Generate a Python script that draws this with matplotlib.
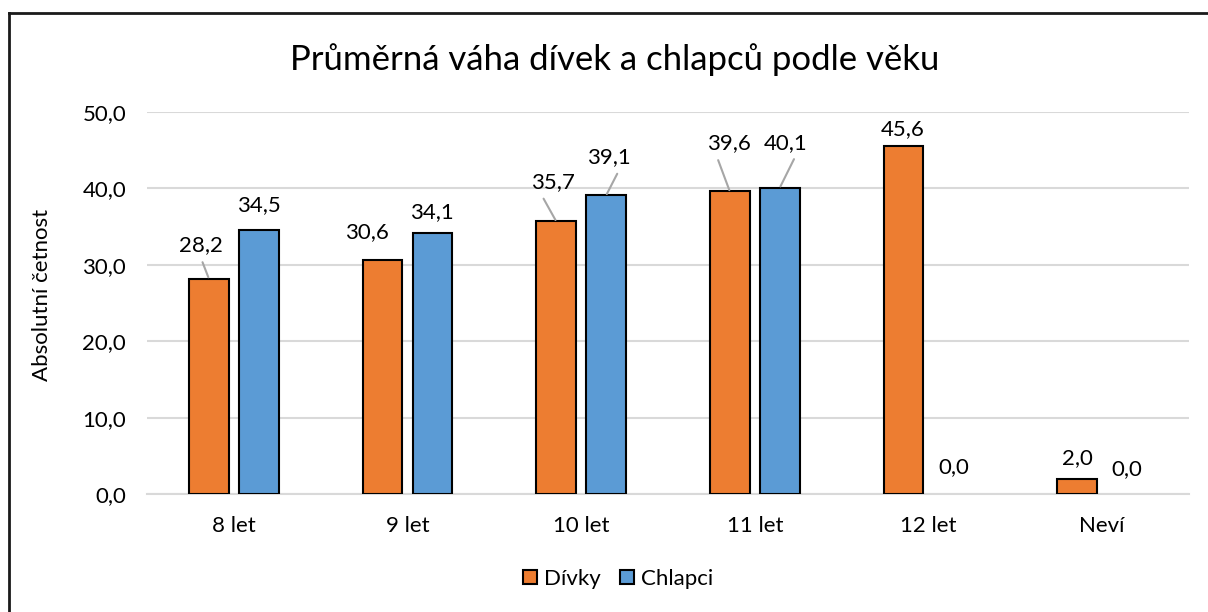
import matplotlib
matplotlib.use("Agg")
import matplotlib.pyplot as plt
from matplotlib.lines import Line2D
from matplotlib.patches import Patch
import numpy as np

categories = ["8 let", "9 let", "10 let", "11 let", "12 let", "Neví"]
divky = [28.2, 30.6, 35.7, 39.6, 45.6, 2.0]
chlapci = [34.5, 34.1, 39.1, 40.1, 0.0, 0.0]
series_names = ["Dívky", "Chlapci"]
yticks = [0, 10, 20, 30, 40, 50]
title = "Průměrná váha dívek a chlapců podle věku"
ylabel = "Absolutní četnost"

ORANGE = "#ED7D31"
BLUE = "#5B9BD5"
GRID = "#D9D9D9"
FONT = "Lato"
FS = 16

W, H = 1208, 612
fig = plt.figure(figsize=(W / 100, H / 100), dpi=100)
plt.rcParams['font.family'] = [FONT, 'DejaVu Sans']

def fx(px):
    return px / W

def fy(py):
    return 1 - py / H

ax = fig.add_axes([fx(147), fy(494), fx(1189) - fx(147), fy(112) - fy(494)])

x = np.arange(len(categories))
bw = 0.23
off = 0.144
b1 = ax.bar(x - off, divky, bw, color=ORANGE, edgecolor="black", linewidth=1.5, zorder=3)
b2 = ax.bar(x + off, chlapci, bw, color=BLUE, edgecolor="black", linewidth=1.5, zorder=3)
for bars, vals in ((b1, divky), (b2, chlapci)):
    for r, v in zip(bars, vals):
        if v == 0:
            r.set_edgecolor("none")

ax.set_xlim(-0.5, len(categories) - 0.5)
ax.set_ylim(0, 50)
ax.set_yticks(yticks)
ax.set_yticklabels([f"{v:.1f}".replace(".", ",") for v in yticks])
ax.set_xticks(x)
ax.set_xticklabels(categories)
ax.tick_params(axis="both", length=0, labelsize=FS, colors="black")
ax.tick_params(axis="y", pad=15)
ax.tick_params(axis="x", pad=16)
for s in ["top", "right", "left"]:
    ax.spines[s].set_visible(False)
ax.spines["bottom"].set_color(GRID)
ax.spines["bottom"].set_linewidth(1.5)
ax.yaxis.grid(True, color=GRID, linewidth=1.5, zorder=0)
ax.set_axisbelow(True)

# label offsets in pixels (dx, dy up) and leader line settings
div_offsets = [(-8, 33), (-16, 28), (-3, 39), (-1, 48), (-1, 17), (0, 21)]
chl_offsets = [(0, 25), (-1, 21), (3, 38), (6, 45), (0, 27), (0, 25)]
div_leader = [0.48, None, 0.2, 0.2, None, None]
chl_leader = [None, None, 0.76, 0.76, None, None]

def label(xc, v, o, lead):
    txt = f"{v:.1f}".replace(".", ",")
    kw = {}
    if lead is not None:
        kw["arrowprops"] = dict(arrowstyle="-", color="#A6A6A6", lw=1.5,
                                relpos=(lead, 0.0), shrinkA=3, shrinkB=1)
    ax.annotate(txt, xy=(xc, v), xytext=(o[0], o[1]), textcoords="offset pixels",
                ha="center", va="center", fontsize=FS, color="black", zorder=5, **kw)

for i in range(len(categories)):
    label(x[i] - off, divky[i], div_offsets[i], div_leader[i])
    label(x[i] + off, chlapci[i], chl_offsets[i], chl_leader[i])

fig.text(fx(615), fy(60), title, ha="center", va="center", fontsize=25, color="black")
fig.text(fx(42), fy(295), ylabel, ha="center", va="center", rotation=90, fontsize=FS, color="black")

handles = [Patch(facecolor=ORANGE, edgecolor="black", linewidth=1.5),
           Patch(facecolor=BLUE, edgecolor="black", linewidth=1.5)]
fig.legend(handles, series_names, loc="center", bbox_to_anchor=(fx(618), fy(579)),
           ncol=2, frameon=False, fontsize=FS, handlelength=0.63, handleheight=0.63,
           handletextpad=0.3, columnspacing=0.9, borderpad=0, borderaxespad=0)

fig.add_artist(Line2D([fx(8.5), fx(1208)], [fy(12.5), fy(12.5)], color="#1a1a1a", lw=2.0))
fig.add_artist(Line2D([fx(8.5), fx(8.5)], [fy(12.5), fy(612)], color="#1a1a1a", lw=2.0))

fig.savefig("out.png", dpi=100)
